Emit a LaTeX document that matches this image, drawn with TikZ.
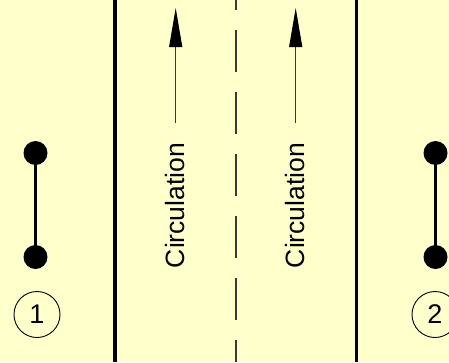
\documentclass[tikz,border=0pt]{standalone}
\usepackage{fontspec}
\setmainfont{Liberation Sans}
\usetikzlibrary{arrows.meta}
\definecolor{bgyellow}{HTML}{FFFFCC}
\definecolor{lanegray}{HTML}{3A3A30}
\begin{document}
\begin{tikzpicture}[x=1pt,y=-1pt,
  dotnode/.style={circle,fill=black,draw=none,minimum size=24pt,inner sep=0pt},
  numnode/.style={circle,draw=black,line width=0.9pt,minimum size=46pt,inner sep=0pt,font=\fontsize{27}{30}\selectfont},
  edgeline/.style={line width=3.5pt,black},
  centreline/.style={line width=1.6pt,lanegray,dash pattern=on 42pt off 20pt,dash phase=32pt},
  flowarrow/.style={line width=1pt,lanegray,-{Triangle[length=39pt,width=13pt,black]}},
  flowtext/.style={rotate=90,font=\fontsize{26.5}{30}\selectfont,inner sep=0pt},
  stem/.style={line width=3pt,black}]
\fill[bgyellow] (0,0) rectangle (449,362);
\useasboundingbox (0,0) rectangle (449,362);
% lane edges
\coordinate (el1) at (115,0);
\coordinate (el2) at (115,362);
\coordinate (er1) at (356.5,0);
\coordinate (er2) at (356.5,362);
\coordinate (cl1) at (235.7,0);
\coordinate (cl2) at (235.7,362);
\draw[edgeline] (el1) -- (el2);
\draw[edgeline] (er1) -- (er2);
\draw[centreline] (cl1) -- (cl2);
% arrows
\coordinate (a1s) at (175.7,123);
\coordinate (a1e) at (175.7,8);
\coordinate (a2s) at (295.7,123);
\coordinate (a2e) at (295.7,8);
\draw[flowarrow] (a1s) -- (a1e);
\draw[flowarrow] (a2s) -- (a2e);
\node[flowtext] (t1) at (175.5,205.5) {Circulation};
\node[flowtext] (t2) at (295.5,205.5) {Circulation};
% left post
\node[dotnode] (l1) at (35.5,153) {};
\node[dotnode] (l2) at (35.5,257) {};
\draw[stem] (l1.center) -- (l2.center);
\node[numnode] (n1) at (37,314.5) {1};
% right post
\node[dotnode] (r1) at (435.5,153) {};
\node[dotnode] (r2) at (435.5,257) {};
\draw[stem] (r1.center) -- (r2.center);
\node[numnode] (n2) at (435,314.5) {2};
\end{tikzpicture}
\end{document}
